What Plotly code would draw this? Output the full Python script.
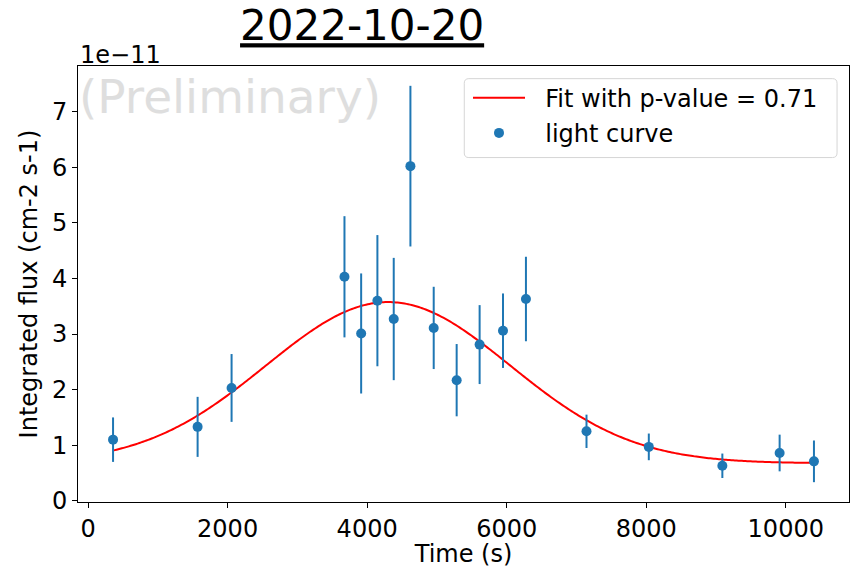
import numpy as np
import plotly.graph_objects as go

# Light curve: time (s), integrated flux and 1-sigma error (units of 1e-11 cm-2 s-1)
time_s = [358, 1570, 2057, 3675, 3914, 4147, 4381, 4620, 4954, 5283,
          5612, 5947, 6276, 7144, 8037, 9091, 9912, 10404]
flux = [1.10, 1.33, 2.03, 4.03, 3.01, 3.60, 3.27, 6.02, 3.11, 2.17,
        2.81, 3.06, 3.63, 1.25, 0.97, 0.63, 0.86, 0.71]
flux_err = [0.40, 0.54, 0.61, 1.09, 1.08, 1.18, 1.10, 1.445, 0.74, 0.65,
            0.71, 0.67, 0.76, 0.30, 0.24, 0.22, 0.33, 0.375]

# Gaussian-plus-constant fit parameters
fit_amp = 2.90
fit_mu = 4300.0
fit_sigma = 1750.0
fit_base = 0.675
p_value = 0.71

x_ticks = [0, 2000, 4000, 6000, 8000, 10000]
y_ticks = [0, 1, 2, 3, 4, 5, 6, 7]

FONT = "DejaVu Sans"
BLUE = "#1f77b4"
PAD = "\u00a0\u00a0"  # extra gap between legend symbol and label

t = np.array(time_s, dtype=float)
f = np.array(flux)
e = np.array(flux_err)

t_fit = np.linspace(t.min(), t.max(), 400)
f_fit = fit_base + fit_amp * np.exp(-(t_fit - fit_mu) ** 2 / (2 * fit_sigma ** 2))

# Autoscale with 5% padding around the data (including error bars)
xpad = 0.05 * (t.max() - t.min())
ylo, yhi = (f - e).min(), (f + e).max()
ypad = 0.05 * (yhi - ylo)

fig = go.Figure()
fig.add_trace(go.Scatter(
    x=t_fit, y=f_fit, mode="lines",
    line=dict(color="red", width=2, simplify=False),
    name=PAD + f"Fit with p-value = {p_value}",
    legendgroup="fit",
))
fig.add_trace(go.Scatter(
    x=t, y=f, mode="markers",
    marker=dict(color=BLUE, size=10),
    error_y=dict(type="data", array=e, color=BLUE, thickness=2, width=0),
    name=PAD + "light curve",
    legendgroup="lc",
))

# legend frame (rounded, light grey)
x0, x1, y0, y1 = 0.501, 0.9845, 0.79, 0.971
r = 0.006
ry = r * 771 / 437
path = (f"M {x0 + r},{y0} L {x1 - r},{y0} Q {x1},{y0} {x1},{y0 + ry} "
        f"L {x1},{y1 - ry} Q {x1},{y1} {x1 - r},{y1} L {x0 + r},{y1} "
        f"Q {x0},{y1} {x0},{y1 - ry} L {x0},{y0 + ry} Q {x0},{y0} {x0 + r},{y0} Z")
fig.add_shape(type="path", path=path, xref="paper", yref="paper",
              line=dict(color="#d6d6d6", width=1), fillcolor="rgba(255,255,255,0.8)",
              layer="above")

fig.add_annotation(text="(Preliminary)", xref="paper", yref="paper",
                   x=-0.001, y=0.931, xanchor="left", yanchor="middle",
                   showarrow=False, font=dict(family=FONT, size=47, color="#dedede"))
fig.add_annotation(text="1e\u221211", xref="paper", yref="paper",
                   x=0.0, y=0.989, xanchor="left", yanchor="bottom",
                   showarrow=False, font=dict(family=FONT, size=24, color="black"))

axis_common = dict(
    showline=True, linecolor="black", linewidth=1, mirror=True,
    ticks="outside", ticklen=5, tickcolor="black", tickwidth=1,
    showgrid=False, zeroline=False,
    tickfont=dict(family=FONT, size=24, color="black"),
)

fig.update_layout(
    width=852, height=568,
    margin=dict(l=78, r=3, t=66, b=66),
    paper_bgcolor="white", plot_bgcolor="white",
    font=dict(family=FONT, size=24, color="black"),
    title=dict(text="<u>2022-10-20</u>", x=0.425, xref="container", xanchor="center",
               y=0.955, yref="container", yanchor="middle",
               font=dict(family=FONT, size=42, color="black")),
    xaxis=dict(axis_common, range=[t.min() - xpad, t.max() + xpad],
               tickvals=x_ticks, ticktext=[str(v) for v in x_ticks],
               title=dict(text="Time (s)", standoff=4,
                          font=dict(family=FONT, size=24, color="black"))),
    yaxis=dict(axis_common, range=[ylo - ypad, yhi + ypad],
               tickvals=y_ticks, ticktext=[str(v) for v in y_ticks],
               title=dict(text="Integrated flux (cm-2 s-1)", standoff=7,
                          font=dict(family=FONT, size=24, color="black"))),
    legend=dict(x=(468 - 78) / 771, y=0.978, xanchor="left", yanchor="top",
                bgcolor="rgba(0,0,0,0)", borderwidth=0,
                font=dict(family=FONT, size=24, color="black"),
                tracegroupgap=1, itemwidth=52),
    showlegend=True,
)

fig.write_html("out.html")
